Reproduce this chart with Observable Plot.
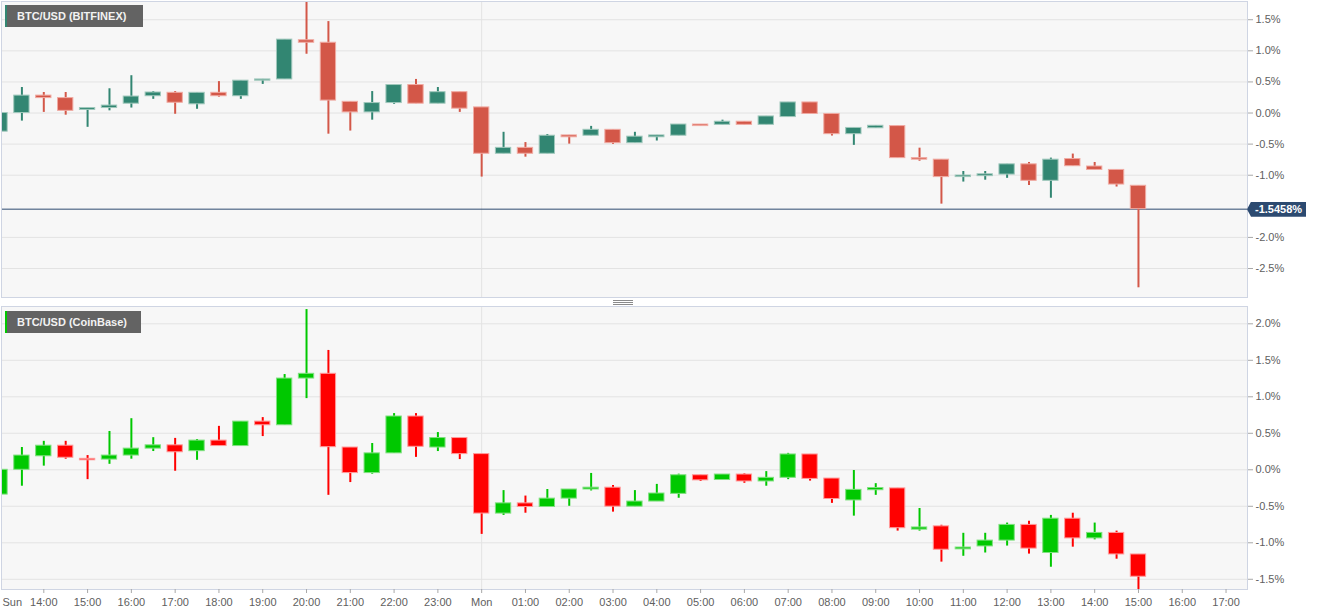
<!DOCTYPE html>
<html>
<head>
<meta charset="utf-8">
<script src="https://cdn.jsdelivr.net/npm/d3@7"></script>
<script src="https://cdn.jsdelivr.net/npm/@observablehq/plot@0.6"></script>
<style>
  html, body { margin: 0; padding: 0; background: #fff; }
  #wrap { position: relative; width: 1331px; height: 615px; overflow: hidden; font-family: "Liberation Sans", Arial, sans-serif; }
  .panel { position: absolute; left: 0; }
  .panel svg { display: block; }
  .tag { position: absolute; left: 5px; height: 22px; background: #636363; color: #f2f2f2;
         font: bold 11px "Liberation Sans", Arial, sans-serif; line-height: 22px; padding-left: 12px; box-sizing: border-box; white-space: nowrap; }
  .tag::before { content: ""; position: absolute; left: 0; top: 0; bottom: 0; width: 2px; background: var(--stripe); }
  .price { position: absolute; left: 1247px; height: 15px; width: 59px; background: #2c4a70; color: #fff;
           font: bold 11px "Liberation Sans", Arial, sans-serif; line-height: 15px; padding-left: 8px; box-sizing: border-box;
           clip-path: polygon(0 50%, 4px 0, 100% 0, 100% 100%, 4px 100%); white-space: nowrap; }
  .split { position: absolute; left: 613px; top: 300px; width: 20px; height: 5px;
           border-top: 1px solid #8a8a8a; border-bottom: 1px solid #8a8a8a; box-sizing: border-box; }
  .split::after { content: ""; position: absolute; left: 0; right: 0; top: 1px; border-top: 1px solid #8a8a8a; }
</style>
</head>
<body>
<div id="wrap"></div>
<script>
// ---- time slots (hours after Sun 13:00), 30-minute candles ----
const slots = [0,0.5,1,1.5,2,2.5,3,3.5,4,4.5,5,5.5,6,6.5,7,7.5,8,8.5,9,9.5,10,10.5,11,11.5,12,12.5,
               13,13.5,14,14.5,15,15.5,16,16.5,17,17.5,18,18.5,19,19.5,20,20.5,21,21.5,22,22.5,23,23.5,
               24,24.5,25,25.5,26];

// ---- x tick positions (hours after Sun 13:00) and labels ----
const xTickHours = [0,1,2,3,4,5,6,7,8,9,10,11,12,13,14,15,16,17,18,19,20,21,22,23,24,25,26,27,28];
const xTickLabels = ["Sun","14:00","15:00","16:00","17:00","18:00","19:00","20:00","21:00","22:00","23:00",
                     "Mon","01:00","02:00","03:00","04:00","05:00","06:00","07:00","08:00","09:00","10:00",
                     "11:00","12:00","13:00","14:00","15:00","16:00","17:00"];

// ---- BTC/USD (BITFINEX), % change ----
const bfxOpen  = [-0.30,0.00,0.28,0.24,0.05,0.08,0.15,0.27,0.325,0.14,0.325,0.27,0.52,0.54,1.17,1.13,0.18,0.01,0.16,0.45,0.15,0.335,
                  0.09,-0.655,-0.56,-0.655,-0.36,-0.365,-0.27,-0.485,-0.39,-0.365,-0.185,-0.19,-0.14,-0.19,-0.065,0.17,-0.015,-0.34,
                  -0.245,-0.21,-0.725,-0.75,-1.03,-1.015,-0.99,-0.825,-1.09,-0.74,-0.86,-0.915,-1.17];
const bfxHigh  = [0.00,0.41,0.33,0.33,0.08,0.39,0.60,0.345,0.345,0.325,0.505,0.52,0.54,1.18,1.85,1.47,0.18,0.345,0.45,0.54,0.41,0.335,
                  0.09,-0.31,-0.475,-0.345,-0.36,-0.215,-0.27,-0.31,-0.36,-0.185,-0.185,-0.115,-0.14,-0.055,0.17,0.17,-0.015,-0.24,
                  -0.205,-0.21,-0.565,-0.75,-0.94,-0.94,-0.825,-0.795,-0.725,-0.66,-0.795,-0.915,-1.17];
const bfxLow   = [-0.53,-0.13,0.01,-0.035,-0.23,0.035,0.08,0.22,-0.02,0.06,0.255,0.22,0.46,0.54,0.945,-0.34,-0.29,-0.115,0.14,0.15,0.15,0.01,
                  -1.03,-0.655,-0.71,-0.655,-0.50,-0.365,-0.505,-0.485,-0.45,-0.365,-0.21,-0.19,-0.19,-0.19,-0.065,-0.015,-0.37,-0.52,
                  -0.245,-0.725,-0.775,-1.465,-1.11,-1.08,-1.05,-1.165,-1.37,-0.855,-0.915,-1.19,-2.81];
const bfxClose = [0.00,0.28,0.24,0.035,0.08,0.12,0.265,0.33,0.165,0.325,0.27,0.52,0.54,1.18,1.13,0.20,0.01,0.16,0.45,0.15,0.335,0.07,
                  -0.655,-0.56,-0.655,-0.365,-0.39,-0.27,-0.485,-0.38,-0.36,-0.185,-0.21,-0.14,-0.19,-0.055,0.17,-0.015,-0.34,-0.24,
                  -0.205,-0.725,-0.75,-1.03,-1.005,-0.985,-0.825,-1.09,-0.75,-0.855,-0.915,-1.15,-1.5458];
const bfxLast = -1.5458;
const bfxTicks = [1.5,1.0,0.5,0.0,-0.5,-1.0,-2.0,-2.5];

// ---- BTC/USD (CoinBase), % change ----
const cbOpen  = [-0.34,0.00,0.185,0.33,0.15,0.14,0.195,0.29,0.335,0.255,0.40,0.325,0.66,0.61,1.25,1.315,0.305,-0.045,0.225,0.73,0.305,0.435,
                 0.215,-0.60,-0.46,-0.51,-0.395,-0.27,-0.245,-0.505,-0.435,-0.33,-0.075,-0.14,-0.065,-0.16,-0.11,0.21,-0.12,-0.42,
                 -0.28,-0.255,-0.82,-0.775,-1.09,-1.05,-0.97,-0.755,-1.14,-0.67,-0.94,-0.865,-1.16];
const cbHigh  = [0.035,0.305,0.39,0.39,0.195,0.525,0.70,0.44,0.43,0.415,0.595,0.66,0.715,1.305,2.195,1.635,0.305,0.36,0.77,0.77,0.51,0.435,
                 0.215,-0.285,-0.36,-0.27,-0.27,-0.05,-0.215,-0.285,-0.20,-0.06,-0.075,-0.065,-0.055,-0.025,0.225,0.21,-0.12,-0.01,
                 -0.19,-0.255,-0.53,-0.76,-0.87,-0.87,-0.73,-0.705,-0.625,-0.595,-0.73,-0.84,-1.16];
const cbLow   = [-0.59,-0.225,0.05,0.145,-0.135,0.075,0.145,0.25,-0.02,0.13,0.325,0.325,0.455,0.61,0.975,-0.35,-0.175,-0.06,0.225,0.17,0.25,0.14,
                 -0.885,-0.625,-0.595,-0.51,-0.50,-0.29,-0.58,-0.505,-0.435,-0.39,-0.16,-0.14,-0.185,-0.225,-0.135,-0.155,-0.46,-0.635,
                 -0.35,-0.84,-0.84,-1.265,-1.185,-1.14,-1.045,-1.155,-1.335,-1.06,-0.96,-1.225,-1.70];
const cbClose = [0.00,0.195,0.33,0.165,0.13,0.195,0.29,0.335,0.24,0.40,0.325,0.66,0.61,1.25,1.315,0.31,-0.045,0.225,0.73,0.315,0.435,0.215,
                 -0.60,-0.46,-0.51,-0.395,-0.27,-0.245,-0.505,-0.435,-0.325,-0.075,-0.145,-0.065,-0.16,-0.11,0.21,-0.125,-0.40,-0.275,
                 -0.25,-0.80,-0.79,-1.095,-1.065,-0.97,-0.755,-1.08,-0.67,-0.94,-0.865,-1.16,-1.465];
const cbTicks = [2.0,1.5,1.0,0.5,0.0,-0.5,-1.0,-1.5];

// ---- layout / style ----
const W = 1331;
const xDomain = [0.034, 28.49];
const bodyHalf = 0.175; // half candle width, in hours
const fontStack = "'Liberation Sans', Arial, sans-serif";

function candlePanel(cfg) {
  const data = slots.map((t, i) => ({t, o: cfg.open[i], h: cfg.high[i], l: cfg.low[i], c: cfg.close[i]}));
  const fillOf = d => d.c >= d.o ? cfg.up : cfg.down;
  const edgeOf = d => d.c >= d.o ? cfg.upEdge : cfg.downEdge;
  const marks = [
    Plot.frame({fill: "#f7f7f7", stroke: "none"}),
    Plot.ruleY(cfg.ticks, {stroke: "#e3e3e3"}),
    Plot.ruleX([xTickHours[11]], {stroke: "#e3e3e3"}),
    ...(cfg.extra || []),
    Plot.ruleX(data, {x: "t", y1: "l", y2: "h", stroke: fillOf, strokeWidth: 2, clip: true}),
    Plot.rect(data, {x1: d => d.t - bodyHalf, x2: d => d.t + bodyHalf, y1: "o", y2: "c",
                     fill: fillOf, stroke: edgeOf, strokeWidth: 1, clip: true}),
    Plot.axisY(cfg.ticks, {anchor: "right", tickSize: 5, tickPadding: 3, fontSize: 11,
                           stroke: "#a8a8a8", fill: "#606060", label: null,
                           tickFormat: d => d.toFixed(1) + "%"}),
    Plot.frame({stroke: "#cfd5e3"})
  ];
  if (cfg.xAxis) {
    marks.push(
      Plot.axisX(xTickHours.slice(1), {anchor: "bottom", tickSize: 4, tickPadding: 5, fontSize: 11,
                                       stroke: "#a8a8a8", fill: "#606060", label: null,
                                       tickFormat: d => xTickLabels[xTickHours.indexOf(d)]}),
      Plot.axisX(xTickHours.slice(0, 1), {anchor: "bottom", tickSize: 0, tickPadding: 9, fontSize: 11,
                                       fill: "#606060", label: null, textAnchor: "start", dx: 2.5,
                                       tickFormat: d => xTickLabels[xTickHours.indexOf(d)]})
    );
  }
  return Plot.plot({
    width: W, height: cfg.height,
    marginLeft: 1, marginRight: 84, marginTop: cfg.marginTop, marginBottom: cfg.marginBottom,
    x: {type: "linear", domain: xDomain, axis: null},
    y: {domain: cfg.yDomain, axis: null},
    color: {type: "identity"},
    style: {fontFamily: fontStack, fontSize: "11px", background: "transparent", overflow: "visible"},
    marks
  });
}

const wrap = document.getElementById("wrap");

// top panel
const topChart = candlePanel({
  open: bfxOpen, high: bfxHigh, low: bfxLow, close: bfxClose, ticks: bfxTicks,
  up: "#328672", down: "#d35748", upEdge: "#a0c8bc", downEdge: "#f0aaa2",
  yDomain: [-2.966, 1.793], height: 298, marginTop: 1, marginBottom: 1,
  extra: [Plot.ruleY([bfxLast], {stroke: "#2c4a70", strokeWidth: 1})]
});
const topDiv = document.createElement("div");
topDiv.className = "panel"; topDiv.style.top = "0px";
topDiv.appendChild(topChart);
wrap.appendChild(topDiv);

// bottom panel
const botChart = candlePanel({
  open: cbOpen, high: cbHigh, low: cbLow, close: cbClose, ticks: cbTicks,
  up: "#00c800", down: "#ff0000", upEdge: "#80e080", downEdge: "#ff9a9a",
  yDomain: [-1.640, 2.237], height: 315, marginTop: 6, marginBottom: 26, xAxis: true
});
const botDiv = document.createElement("div");
botDiv.className = "panel"; botDiv.style.top = "300px";
botDiv.appendChild(botChart);
wrap.appendChild(botDiv);

// series tags
function tag(text, top, width, stripe) {
  const el = document.createElement("div");
  el.className = "tag";
  el.textContent = text;
  el.style.top = top + "px";
  el.style.width = width + "px";
  el.style.setProperty("--stripe", stripe);
  wrap.appendChild(el);
}
tag("BTC/USD (BITFINEX)", 5, 138, "#328672");
tag("BTC/USD (CoinBase)", 311, 136, "#00c800");

// last price label, positioned through the top chart's y scale
const yPx = topChart.scale("y").apply(bfxLast);
const price = document.createElement("div");
price.className = "price";
price.textContent = (bfxLast).toFixed(4) + "%";
price.style.top = (yPx - 7) + "px";
wrap.appendChild(price);

// splitter handle
const sp = document.createElement("div");
sp.className = "split";
wrap.appendChild(sp);
</script>
</body>
</html>
